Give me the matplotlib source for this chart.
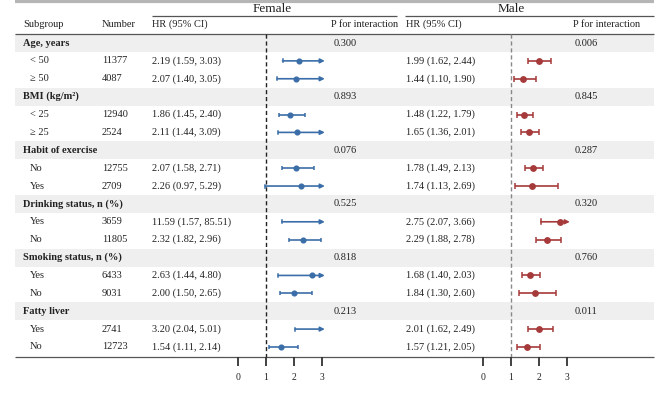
import numpy as np
import matplotlib.pyplot as plt

plt.rcParams['font.family'] = ['Liberation Serif', 'DejaVu Serif']

groups = ["Age, years", "BMI (kg/m²)", "Habit of exercise",
          "Drinking status, n (%)", "Smoking status, n (%)", "Fatty liver"]
sub_labels = ["< 50", "≥ 50", "< 25", "≥ 25", "No", "Yes", "Yes", "No", "Yes", "No", "Yes", "No"]
numbers = [11377, 4087, 12940, 2524, 12755, 2709, 3659, 11805, 6433, 9031, 2741, 12723]

female_hr = [2.19, 2.07, 1.86, 2.11, 2.07, 2.26, 11.59, 2.32, 2.63, 2.00, 3.20, 1.54]
female_lo = [1.59, 1.40, 1.45, 1.44, 1.58, 0.97, 1.57, 1.82, 1.44, 1.50, 2.04, 1.11]
female_hi = [3.03, 3.05, 2.40, 3.09, 2.71, 5.29, 85.51, 2.96, 4.80, 2.65, 5.01, 2.14]
female_p = ["0.300", "0.893", "0.076", "0.525", "0.818", "0.213"]

male_hr = [1.99, 1.44, 1.48, 1.65, 1.78, 1.74, 2.75, 2.29, 1.68, 1.84, 2.01, 1.57]
male_lo = [1.62, 1.10, 1.22, 1.36, 1.49, 1.13, 2.07, 1.88, 1.40, 1.30, 1.62, 1.21]
male_hi = [2.44, 1.90, 1.79, 2.01, 2.13, 2.69, 3.66, 2.78, 2.03, 2.60, 2.49, 2.05]
male_p = ["0.006", "0.845", "0.287", "0.320", "0.760", "0.011"]

ticks = [0, 1, 2, 3]

W, H = 669, 398
fig = plt.figure(figsize=(W / 100, H / 100), dpi=100)
ax = fig.add_axes([0, 0, 1, 1])
ax.set_xlim(0, W)
ax.set_ylim(H, 0)
ax.axis('off')

y0, dy = 43, 17.88
def row_y(i):
    return y0 + dy * i

fs = 7.5
tc = '#222222'
L, R = 15, 654

# header lines
ax.hlines(1, L, R, color='#b5b5b5', lw=3)
ax.hlines(15.5, 152, 397, color='#555555', lw=0.9)
ax.hlines(15.5, 405, R, color='#555555', lw=0.9)
ax.hlines(33.5, L, R, color='#555555', lw=0.9)
ax.hlines(357, L, R, color='#555555', lw=0.9)

ax.text(272, 9, "Female", fontsize=9.5, ha='center', va='center', color=tc)
ax.text(511, 9, "Male", fontsize=9.5, ha='center', va='center', color=tc)
for x, s in [(23, "Subgroup"), (102, "Number"), (152, "HR (95% CI)"),
             (331, "P for interaction"), (406, "HR (95% CI)"), (573, "P for interaction")]:
    ax.text(x, 24.5, s, fontsize=fs, va='center', color=tc)

# rows
k = 0
for g, name in enumerate(groups):
    yg = row_y(3 * g)
    ax.fill_between([L, R], yg - 9, yg + 9, color='#efefef', lw=0, zorder=0)
    ax.text(23, yg, name, fontsize=fs, va='center', fontweight='bold', color=tc)
    ax.text(334, yg, female_p[g], fontsize=fs, va='center', color=tc)
    ax.text(575, yg, male_p[g], fontsize=fs, va='center', color=tc)
    for j in range(2):
        y = row_y(3 * g + 1 + j)
        ax.text(30, y, sub_labels[k], fontsize=fs, va='center', color=tc)
        ax.text(102, y, str(numbers[k]), fontsize=fs, va='center', color=tc)
        ax.text(152, y, f"{female_hr[k]:.2f} ({female_lo[k]:.2f}, {female_hi[k]:.2f})",
                fontsize=fs, va='center', color=tc)
        ax.text(406, y, f"{male_hr[k]:.2f} ({male_lo[k]:.2f}, {male_hi[k]:.2f})",
                fontsize=fs, va='center', color=tc)
        k += 1

# forest panels
def forest(x_zero, hr, lo, hi, color, capsize, ms, dash_color):
    left = x_zero - 0.5 * 28
    right = x_zero + 3.643 * 28
    fa = fig.add_axes([left / W, 0, (right - left) / W, 1])
    fa.set_xlim(-0.5, 3.643)
    fa.set_ylim((H - y0) / dy, -y0 / dy)
    fa.axis('off')
    fa.patch.set_alpha(0)
    top = (33.5 - y0) / dy
    bot = (357 - y0) / dy
    fa.vlines(1, top, bot, color=dash_color, lw=1.0, linestyles=(0, (3, 2)))
    tick_len = 9 / dy
    fa.vlines(ticks, bot, bot + tick_len, color='#333333', lw=1.3)
    for t in ticks:
        fa.text(t, (377 - y0) / dy, str(t), fontsize=7, ha='center', va='center', color=tc)
    for n in range(len(hr)):
        r = 3 * (n // 2) + 1 + n % 2
        if hi[n] > 3:
            fa.annotate('', xy=(3.1, r), xytext=(lo[n], r),
                        arrowprops=dict(arrowstyle='-|>', color=color, lw=1.2,
                                        mutation_scale=6.5, shrinkA=0, shrinkB=0))
            fa.plot([lo[n], lo[n]], [r - capsize / dy, r + capsize / dy], color=color, lw=1.1)
        else:
            fa.errorbar([hr[n]], [r], xerr=[[hr[n] - lo[n]], [hi[n] - hr[n]]],
                        fmt='none', ecolor=color, elinewidth=1.2, capsize=capsize, capthick=1.1)
        if hr[n] <= 3.1:
            fa.plot(hr[n], r, 'o', color=color, markersize=ms)

forest(238, female_hr, female_lo, female_hi, '#3b6ea8', 1.5, 3.4, '#222222')
forest(483, male_hr, male_lo, male_hi, '#a63a3a', 2.5, 3.9, '#888888')

fig.savefig('out.png', dpi=100)
